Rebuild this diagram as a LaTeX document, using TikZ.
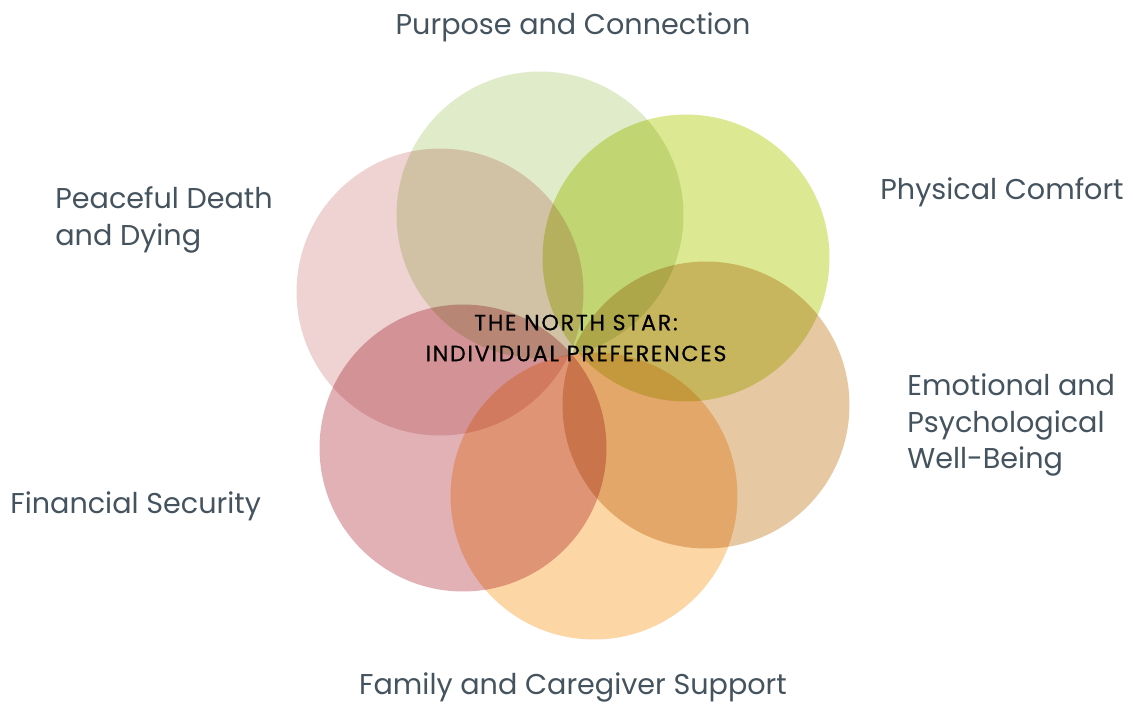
\documentclass[tikz,border=0pt]{standalone}
\usepackage{fontspec}
\setmainfont{Poppins}
\usetikzlibrary{positioning}

\definecolor{purposeC}{HTML}{DFEBC9}
\definecolor{physicalC}{HTML}{DDE893}
\definecolor{emotionalC}{HTML}{E6C9A3}
\definecolor{familyC}{HTML}{FCD6A5}
\definecolor{financeC}{HTML}{E2B1B5}
\definecolor{peaceC}{HTML}{EFD3D2}
\definecolor{labelC}{HTML}{44535E}

\begin{document}
\begin{tikzpicture}[
    x=0.02cm, y=-0.02cm,
    circ_area/.style={
        circle, inner sep=0pt, minimum size=5.74cm, blend mode=multiply,
    },
    lbl_text/.style={
        text=labelC, font=\fontsize{16.3}{21}\selectfont, inner sep=0pt,
    },
    star_text/.style={
        text=black, align=center, inner sep=0pt,
        font=\fontsize{12.6}{17.6}\selectfont\addfontfeatures{LetterSpace=8,FakeBold=0.5},
    }
]
    \useasboundingbox (0,0) rectangle (1133,704);

    \node[circ_area,fill=purposeC] at (540, 215) (purpose) {};
    \node[circ_area,fill=physicalC] at (686, 258) (physical) {};
    \node[circ_area,fill=emotionalC] at (706, 405) (emotional) {};
    \node[circ_area,fill=familyC] at (594, 496) (family) {};
    \node[circ_area,fill=financeC] at (463, 448) (finance) {};
    \node[circ_area,fill=peaceC] at (440, 292) (peace) {};

    \node[star_text] at (576, 338) (star) {THE NORTH STAR:\\INDIVIDUAL PREFERENCES};

    \node[lbl_text] at (573, 27) (l_purpose) {Purpose and Connection};
    \node[lbl_text,anchor=west] at (880, 192) (l_physical) {Physical Comfort};
    \node[lbl_text,anchor=west,align=left] at (907, 425) (l_emotional) {Emotional and\\Psychological\\Well-Being};
    \node[lbl_text] at (573, 687) (l_family) {Family and Caregiver Support};
    \node[lbl_text,anchor=west] at (10, 506) (l_finance) {Financial Security};
    \node[lbl_text,anchor=west,align=left] at (55, 220) (l_peace) {Peaceful Death\\and Dying};

\end{tikzpicture}
\end{document}
